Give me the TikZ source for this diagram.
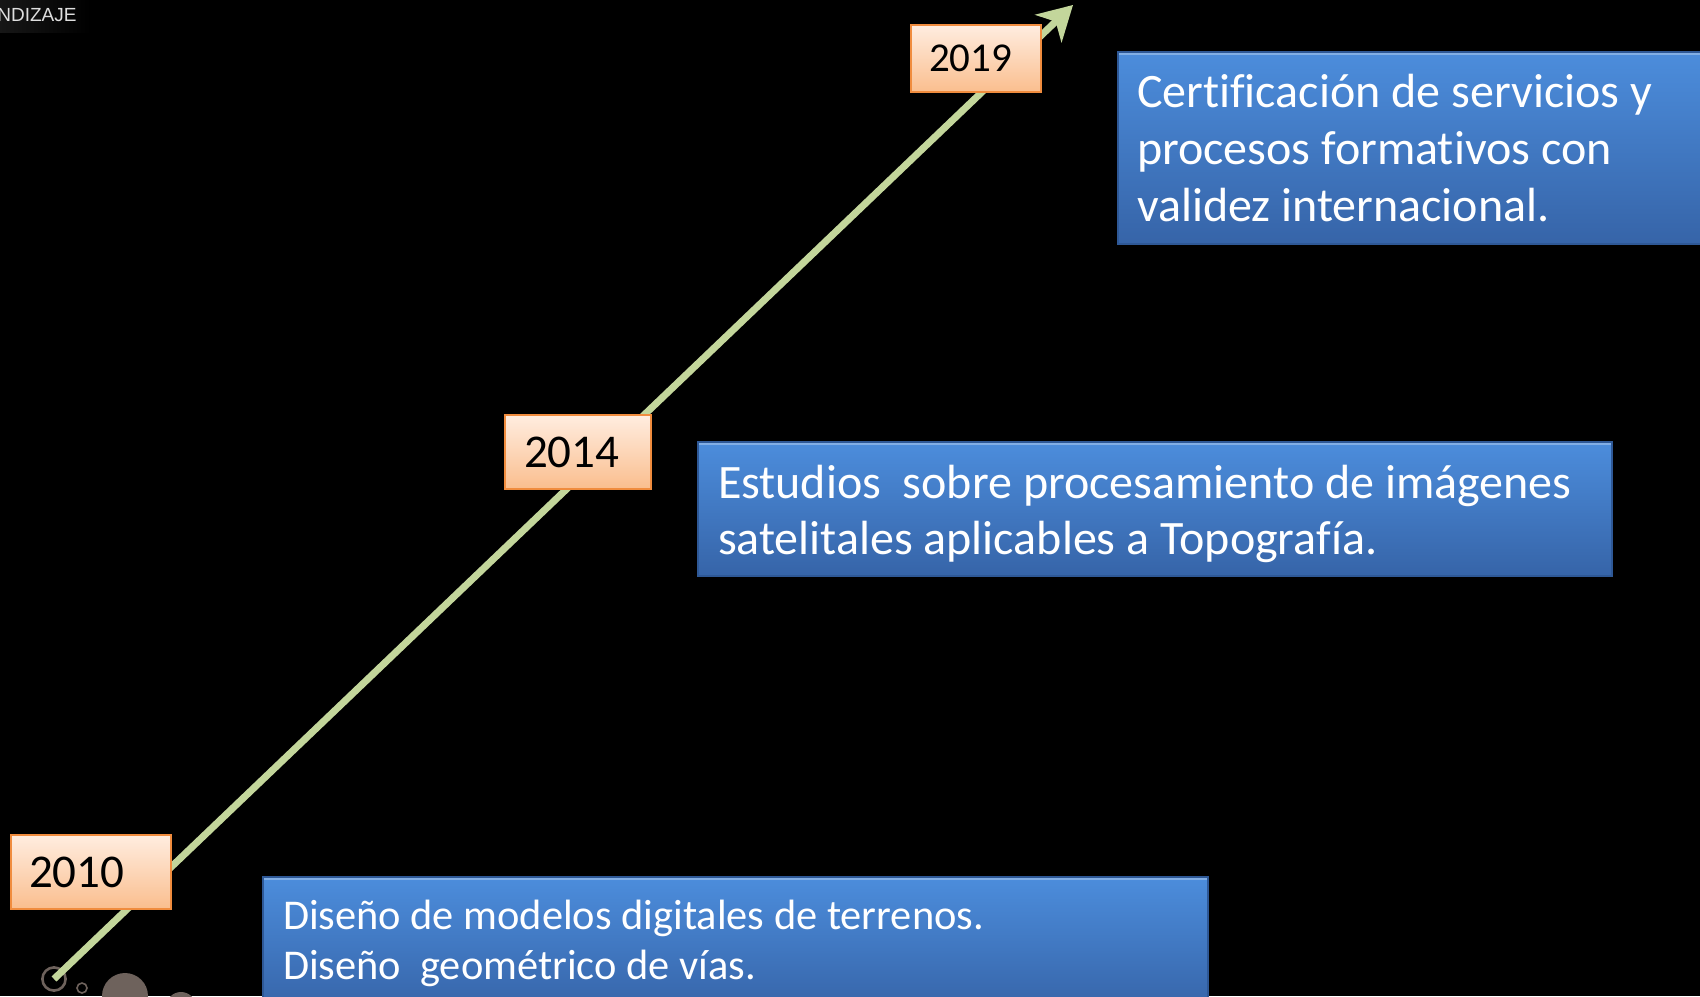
\documentclass[tikz,border=0pt]{standalone}
\usepackage{fontspec}
\setmainfont{Carlito}[Ligatures=NoCommon]
\newfontfamily\headfont{Liberation Sans}
\usepackage{tikz}
\usetikzlibrary{arrows.meta,positioning,calc}
\hyphenpenalty=10000

\definecolor{lineGreen}{RGB}{195,214,155}
\definecolor{yearTop}{RGB}{255,237,224}
\definecolor{yearBottom}{RGB}{250,190,142}
\definecolor{yearEdge}{RGB}{240,140,62}
\definecolor{boxTop}{RGB}{76,141,220}
\definecolor{boxBottom}{RGB}{54,100,168}
\definecolor{boxEdge}{RGB}{46,88,150}
\definecolor{dotGray}{RGB}{110,98,92}

\tikzset{
    yearbox/.style={draw=yearEdge, line width=1pt, top color=yearTop, bottom color=yearBottom,
        anchor=north west, inner sep=0pt, align=left, text=black},
    infobox/.style={draw=boxEdge, line width=1pt, top color=boxTop, bottom color=boxBottom,
        anchor=north west, inner sep=0pt, align=left, text=white,
        execute at begin node={\spaceskip=0pt\xspaceskip=0pt\relax},
        path picture={\draw[white, opacity=0.3, line width=2.5pt]
            (path picture bounding box.north west) -- (path picture bounding box.north east);}}
}

\begin{document}
\begin{tikzpicture}[x=0.5pt, y=-0.5pt]
    % Page and background
    \path[use as bounding box, clip] (0,0) rectangle (1700,996);
    \fill[black] (0,0) rectangle (1700,996);
    \shade[left color=gray!18!black, right color=black] (0,0) rectangle (90,32);
    \node[anchor=west, inner sep=0pt, text=gray!25!white, font=\headfont\fontsize{9.5}{11}\selectfont] (header) at (-3,15) {NDIZAJE};

    % Timeline end points
    \coordinate (start) at (54,979);
    \coordinate (tip) at (1073,5);

    % Draw decorative circles
    \draw[dotGray, line width=1.3pt] (start) circle (5.8pt);
    \draw[dotGray, line width=0.8pt] (82,988) circle (2.5pt);
    \foreach \cx/\cy/\r in {125/996/11.5, 181/1007/7.5}
        \fill[dotGray] (\cx,\cy) circle (\r pt);

    % Draw timeline
    \draw[lineGreen, line width=3.5pt, -{Stealth[length=17pt, width=19pt, inset=5pt]}] (start) -- (tip);

    % Year boxes
    \node[yearbox, minimum height=33.5pt, text width=47pt, inner xsep=9pt,
        font=\fontsize{20.5}{24}\selectfont] (y2019) at (910,24) {2019};
    \node[yearbox, minimum height=37pt, text width=54pt, inner xsep=9.5pt,
        font=\fontsize{23.5}{28}\selectfont] (y2014) at (504,414) {2014};
    \node[yearbox, minimum height=37pt, text width=62pt, inner xsep=9pt,
        font=\fontsize{23.5}{28}\selectfont] (y2010) at (10,834) {2010};

    % Milestone boxes
    \node[infobox, minimum height=96pt, text width=282.5pt, inner xsep=9.5pt,
        font=\fontsize{24}{28.5}\selectfont] (cert) at (1117,51)
        {Certificación de servicios y\\procesos formativos con\\validez internacional.};
    \node[infobox, minimum height=67pt, text width=437pt, inner xsep=10pt,
        font=\fontsize{24}{28}\selectfont] (studies) at (697,441)
        {\rule{0pt}{22pt}Estudios\ \ sobre procesamiento de imágenes\\satelitales aplicables a Topografía.};
    \node[infobox, text width=452.5pt, inner xsep=10pt, inner ysep=11.7pt,
        font=\fontsize{21.2}{25}\selectfont] (design) at (262,876)
        {Diseño de modelos digitales de terrenos.\\Diseño\ \ geométrico de vías.};
\end{tikzpicture}
\end{document}
